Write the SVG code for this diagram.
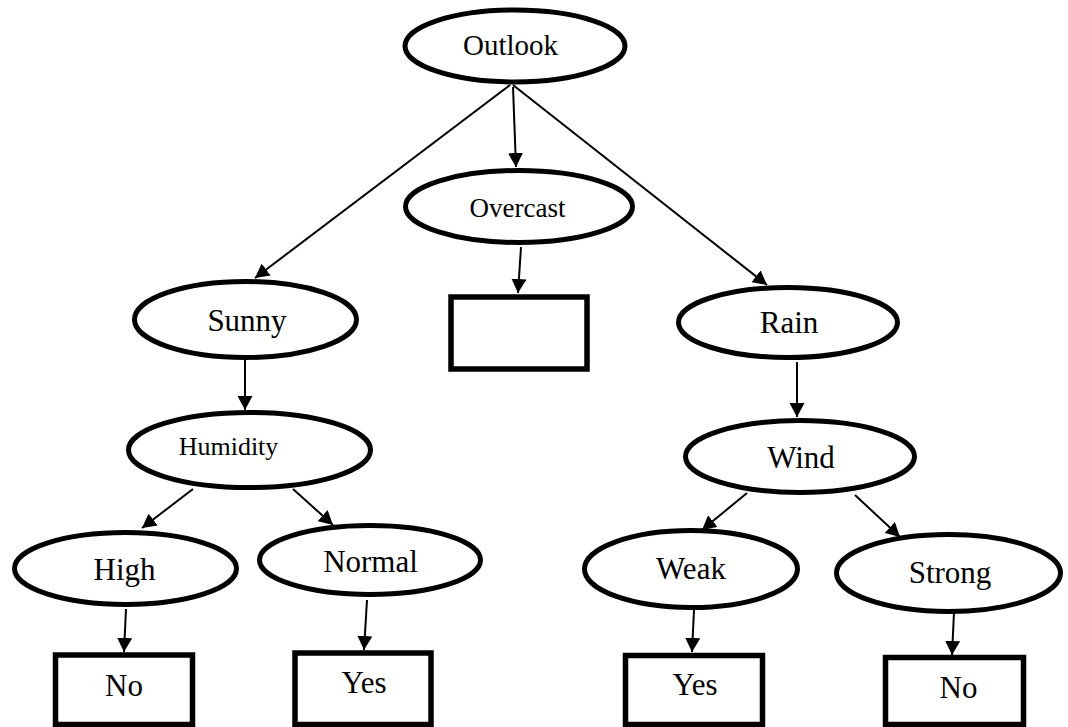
<svg xmlns="http://www.w3.org/2000/svg" width="1068" height="727" viewBox="0 0 1068 727">
<style>
.n{fill:#fff;stroke:#000;stroke-width:5}
.b{fill:#fff;stroke:#000;stroke-width:5.5}
.t{font-family:"Liberation Serif","Times New Roman",serif;fill:#000;text-anchor:middle}
.c{stroke:#000;stroke-width:2;fill:none;marker-end:url(#ah)}
</style>
<defs>
<marker id="ah" markerUnits="userSpaceOnUse" markerWidth="15" markerHeight="15" refX="14" refY="7.5" orient="auto">
<path d="M0,0 L14,7.5 L0,15 z" fill="#000"/>
</marker>
</defs>
<rect width="1068" height="727" fill="#fff"/>
<g id="connectors">
<line class="c" x1="510" y1="85" x2="255" y2="278"/>
<line class="c" x1="513" y1="87" x2="516" y2="167"/>
<line class="c" x1="513" y1="85" x2="767" y2="285"/>
<line class="c" x1="521" y1="247" x2="518" y2="293"/>
<line class="c" x1="245" y1="360" x2="245" y2="410"/>
<line class="c" x1="797" y1="362" x2="797" y2="417"/>
<line class="c" x1="193" y1="489" x2="142" y2="528"/>
<line class="c" x1="293" y1="489" x2="333" y2="525"/>
<line class="c" x1="747" y1="493" x2="702" y2="530"/>
<line class="c" x1="855" y1="495" x2="900" y2="537"/>
<line class="c" x1="126" y1="609" x2="124" y2="652"/>
<line class="c" x1="367" y1="600" x2="364" y2="650"/>
<line class="c" x1="694" y1="610" x2="692" y2="652"/>
<line class="c" x1="954" y1="612" x2="952" y2="655"/>
</g>
<g id="outlook"><ellipse class="n" cx="515" cy="46" rx="110" ry="36"/><text class="t" x="510.5" y="55" font-size="29">Outlook</text></g>
<g id="overcast"><ellipse class="n" cx="519" cy="206.5" rx="113.5" ry="36"/><text class="t" x="517.5" y="217" font-size="27">Overcast</text></g>
<g id="overcast-leaf"><rect class="b" x="451" y="297" width="136" height="72"/></g>
<g id="sunny"><ellipse class="n" cx="245.5" cy="319.5" rx="111" ry="38"/><text class="t" x="247" y="331" font-size="31">Sunny</text></g>
<g id="rain"><ellipse class="n" cx="788" cy="322.5" rx="109.5" ry="35"/><text class="t" x="789" y="333" font-size="31">Rain</text></g>
<g id="humidity"><ellipse class="n" cx="249.5" cy="450" rx="121" ry="37.5"/><text class="t" x="228.5" y="455" font-size="26">Humidity</text></g>
<g id="wind"><ellipse class="n" cx="800" cy="456.5" rx="114.5" ry="36"/><text class="t" x="801" y="468" font-size="31">Wind</text></g>
<g id="high"><ellipse class="n" cx="125.5" cy="568.5" rx="111" ry="36"/><text class="t" x="124.5" y="580" font-size="31">High</text></g>
<g id="normal"><ellipse class="n" cx="370" cy="560" rx="110.5" ry="34.5"/><text class="t" x="370.5" y="572" font-size="31">Normal</text></g>
<g id="weak"><ellipse class="n" cx="691" cy="569" rx="106.5" ry="38.5"/><text class="t" x="691" y="579" font-size="31">Weak</text></g>
<g id="strong"><ellipse class="n" cx="948.5" cy="573" rx="112" ry="38.5"/><text class="t" x="950" y="583" font-size="31">Strong</text></g>
<g id="no-high"><rect class="b" x="55.5" y="655" width="137" height="69.5"/><text class="t" x="124" y="696" font-size="31">No</text></g>
<g id="yes-normal"><rect class="b" x="295" y="653" width="136" height="71.5"/><text class="t" x="364" y="693" font-size="31">Yes</text></g>
<g id="yes-weak"><rect class="b" x="625.5" y="655.5" width="137" height="69"/><text class="t" x="695" y="695" font-size="31">Yes</text></g>
<g id="no-strong"><rect class="b" x="885.5" y="657.5" width="138" height="67"/><text class="t" x="958.5" y="698" font-size="31">No</text></g>
</svg>
